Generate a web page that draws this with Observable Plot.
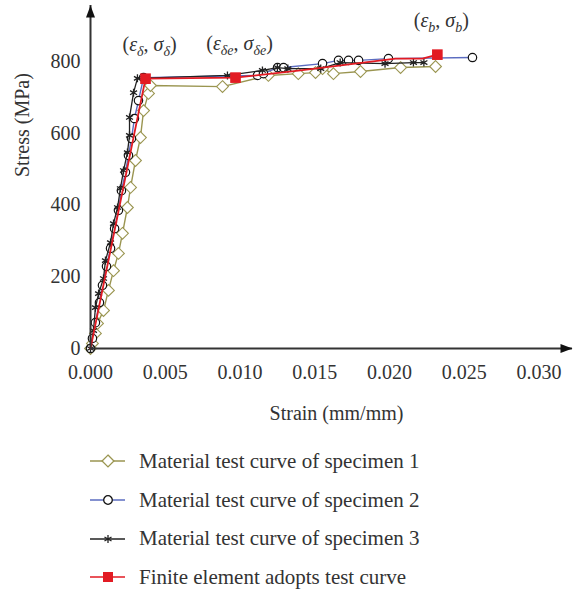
<!DOCTYPE html>
<html><head><meta charset="utf-8">
<script src="https://cdn.jsdelivr.net/npm/d3@7"></script>
<script src="https://cdn.jsdelivr.net/npm/@observablehq/plot@0.6"></script>
<style>
body{margin:0;background:#fff;font-family:"Liberation Serif",serif;color:#333;}
#legend{width:573px;padding-top:12px;}
.row{height:38.7px;display:flex;align-items:center;}
.row svg{margin-left:88px;flex:none;}
.row span{font-size:21px;margin-left:11px;white-space:nowrap;}
</style></head><body>
<div id="chart"></div><div id="legend"></div>
<script>
// ---- data ----
const seriesNames = ["Material test curve of specimen 1", "Material test curve of specimen 2", "Material test curve of specimen 3", "Finite element adopts test curve"];
const xTicks = [0, 0.005, 0.010, 0.015, 0.020, 0.025, 0.030];
const yTicks = [0, 200, 400, 600, 800];
const xLabel = "Strain (mm/mm)";
const yLabel = "Stress (MPa)";

const s1Strain = [0, 0.00013, 0.00033, 0.00047, 0.00087, 0.00120, 0.00154, 0.00187, 0.00214, 0.00247, 0.00268, 0.00301, 0.00334, 0.00355, 0.00388, 0.00401, 0.00883, 0.0119, 0.0139, 0.01505, 0.01552, 0.01625, 0.01806, 0.02074, 0.02308];
const s1Stress = [0, 14, 42, 70, 106, 162, 217, 265, 321, 393, 449, 524, 588, 663, 711, 733, 730, 761, 766, 769, 780, 766, 772, 783, 786];

const s2Strain = [0, 0.00013, 0.00033, 0.0006, 0.0008, 0.00107, 0.00134, 0.00161, 0.00187, 0.00207, 0.00234, 0.00254, 0.00274, 0.00294, 0.00321, 0.00355, 0.01117, 0.01157, 0.01251, 0.01291, 0.01552, 0.01659, 0.01726, 0.01793, 0.01993, 0.02555];
const s2Stress = [0, 28, 72, 128, 176, 229, 279, 334, 385, 440, 491, 538, 585, 641, 691, 755, 761, 766, 783, 783, 794, 803, 803, 803, 808, 811];

const s3Strain = [0, 0.0002, 0.00033, 0.00054, 0.00087, 0.001, 0.00134, 0.00154, 0.00181, 0.002, 0.00221, 0.00247, 0.00261, 0.00261, 0.00288, 0.00314, 0.00916, 0.0115, 0.0125, 0.0132, 0.0154, 0.0167, 0.0197, 0.0216, 0.0223];
const s3Stress = [0, 50, 114, 153, 195, 245, 295, 348, 393, 446, 496, 546, 594, 644, 713, 753, 761, 775, 783, 780, 780, 797, 794, 797, 797];

const feStrain = [0, 0.00368, 0.0097, 0.01405, 0.0204, 0.0222, 0.0232];
const feStress = [0, 752, 755, 775, 808, 808, 819];
const feMarked = [false, true, true, false, false, false, true];

const annoSubs = ["δ", "δe", "b"];
const annoStrain = [0.00368, 0.0097, 0.0232];
const annoStress = [752, 755, 819];

// ---- build ----
const toRows = (xs, ys) => xs.map((x, i) => ({x, y: ys[i], i}));
const s1 = toRows(s1Strain, s1Stress);
const s2 = toRows(s2Strain, s2Stress);
const s3 = toRows(s3Strain, s3Stress);
const fe = toRows(feStrain, feStress);
const feKey = fe.filter(d => feMarked[d.i]);
const anno = annoSubs.map((s, i) => ({x: annoStrain[i], y: annoStress[i], t: `(ε${s}, σ${s})`}));

const C1 = "#9a9550", C2 = "#5b6cc0", C3 = "#222222", C4 = "#e21b23", AX = "#333333";
const xMax = 0.03224, yMax = 956;
const arrowSym = {draw(ctx){ ctx.moveTo(0,0); ctx.lineTo(4.5,12); ctx.lineTo(-4.5,12); ctx.closePath(); }};

const plot = Plot.plot({
  width: 573, height: 430,
  marginLeft: 90, marginRight: 1, marginTop: 5, marginBottom: 82,
  style: {fontFamily: '"Liberation Serif", serif', fontSize: "20px", color: AX, background: "white", overflow: "visible"},
  x: {domain: [0, xMax]},
  y: {domain: [0, yMax]},
  marks: [
    Plot.axisX({ticks: xTicks, tickSize: 0, tickPadding: 16, tickFormat: d3.format(".3f"), label: null}),
    Plot.axisY({ticks: yTicks, tickSize: 0, tickPadding: 10, tickFormat: d3.format("d"), label: null}),
    Plot.text([xLabel], {frameAnchor: "bottom", dy: 65, dx: 5, lineAnchor: "middle", fill: AX}),
    Plot.text([yLabel], {frameAnchor: "left", dx: -68, rotate: -90, fill: AX}),
    Plot.line(s1, {x: "x", y: "y", stroke: C1, strokeWidth: 1.4}),
    Plot.dot(s1, {x: "x", y: "y", symbol: "diamond2", r: 5.3, stroke: C1, fill: "white", strokeWidth: 1.1}),
    Plot.line(s2, {x: "x", y: "y", stroke: C2, strokeWidth: 1.4}),
    Plot.dot(s2, {x: "x", y: "y", symbol: "circle", r: 4.2, stroke: "#111", fill: "white", strokeWidth: 1.2}),
    Plot.line(s3, {x: "x", y: "y", stroke: C3, strokeWidth: 1.3}),
    Plot.dot(s3, {x: "x", y: "y", symbol: "asterisk", r: 3.8, stroke: C3, strokeWidth: 1.3}),
    Plot.line(fe, {x: "x", y: "y", stroke: C4, strokeWidth: 1.8}),
    Plot.dot(feKey, {x: "x", y: "y", symbol: "square", r: 6, fill: C4}),
    Plot.ruleX([0], {y1: 0, y2: yMax, stroke: AX, strokeWidth: 2}),
    Plot.ruleY([0], {x1: 0, x2: xMax, stroke: AX, strokeWidth: 2}),
    Plot.dot([{x: 0, y: yMax}], {x: "x", y: "y", symbol: arrowSym, fill: "#111", stroke: "none"}),
    Plot.dot([{x: xMax, y: 0}], {x: "x", y: "y", symbol: arrowSym, rotate: 90, fill: "#111", stroke: "none"}),
    Plot.text(anno, {x: "x", y: "y", text: "t", dy: -34, dx: 4, fill: AX, fontSize: 20})
  ]
});

// subscripts for annotations
d3.select(plot).selectAll("text").filter(function(){ return this.textContent.startsWith("(ε"); }).each(function(){
  const m = this.textContent.match(/^\(ε(.*?), σ/);
  const sub = m ? m[1] : "";
  const t = d3.select(this);
  t.text(null);
  t.append("tspan").text("(");
  t.append("tspan").attr("font-style", "italic").text("ε");
  t.append("tspan").attr("font-style", "italic").attr("font-size", "14px").attr("dy", "5").text(sub);
  t.append("tspan").attr("dy", "-5").text(", ");
  t.append("tspan").attr("font-style", "italic").text("σ");
  t.append("tspan").attr("font-style", "italic").attr("font-size", "14px").attr("dy", "5").text(sub);
  t.append("tspan").attr("dy", "-5").text(")");
});
document.getElementById("chart").appendChild(plot);

// legend
const legendStyles = [
  {line: C1, sym: d3.symbolDiamond2, size: 90, stroke: C1, fill: "white"},
  {line: C2, sym: d3.symbolCircle, size: 58, stroke: "#111", fill: "white"},
  {line: C3, sym: d3.symbolAsterisk, size: 46, stroke: C3, fill: "none"},
  {line: C4, sym: d3.symbolSquare, size: 100, stroke: "none", fill: C4}
];
const legend = d3.select("#legend");
seriesNames.forEach((name, i) => {
  const st = legendStyles[i];
  const row = legend.append("div").attr("class", "row");
  const s = row.append("svg").attr("width", 40).attr("height", 20);
  s.append("line").attr("x1", 2).attr("x2", 37).attr("y1", 10).attr("y2", 10).attr("stroke", st.line).attr("stroke-width", 1.6);
  s.append("path").attr("d", d3.symbol(st.sym, st.size)()).attr("transform", "translate(20,10)")
    .attr("fill", st.fill).attr("stroke", st.stroke).attr("stroke-width", 1.3);
  row.append("span").text(name);
});
</script>
</body></html>
